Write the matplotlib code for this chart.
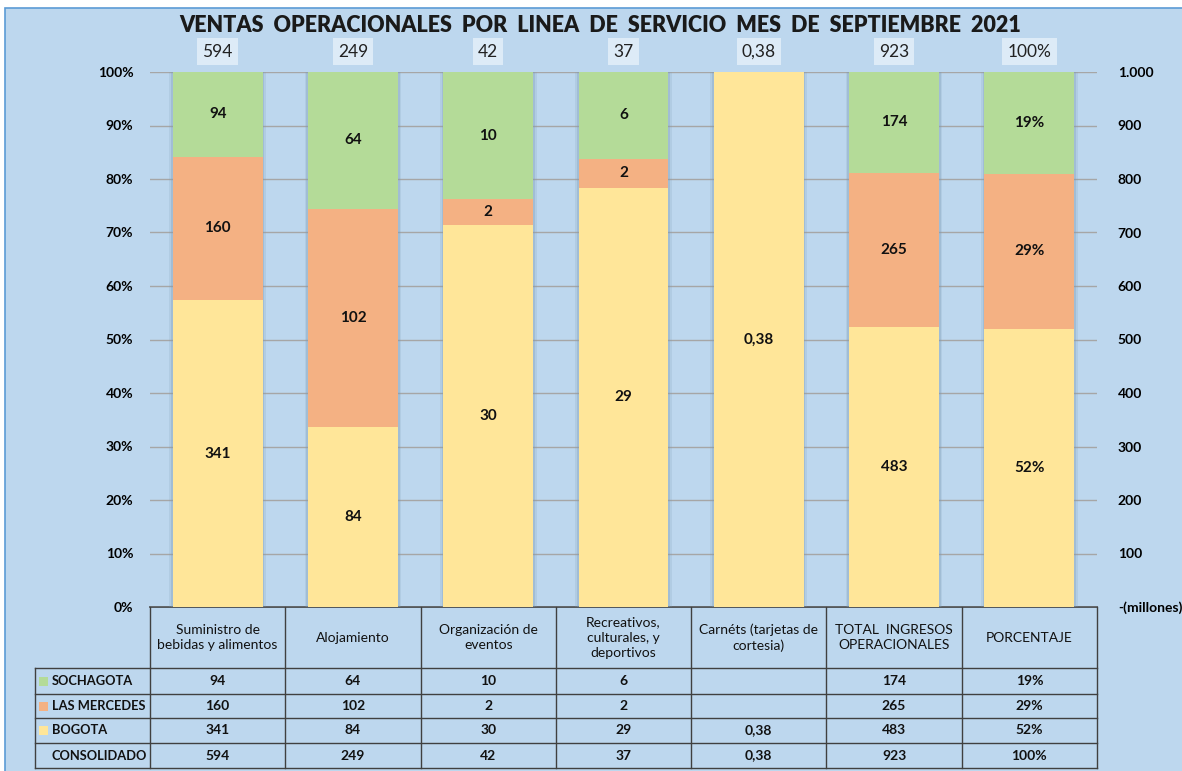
import matplotlib
matplotlib.use("Agg")
import matplotlib.pyplot as plt
import numpy as np
from matplotlib.patches import Rectangle

plt.rcParams['font.family'] = ['Lato', 'DejaVu Sans']

# data
categories = ["Suministro de\nbebidas y alimentos", "Alojamiento", "Organización de\neventos",
              "Recreativos,\nculturales, y\ndeportivos", "Carnéts (tarjetas de\ncortesia)",
              "TOTAL  INGRESOS\nOPERACIONALES", "PORCENTAJE"]
series_names = ["SOCHAGOTA", "LAS MERCEDES", "BOGOTA"]
sochagota = [94, 64, 10, 6, 0, 174, 19]
mercedes = [160, 102, 2, 2, 0, 265, 29]
bogota = [341, 84, 30, 29, 0.38, 483, 52]
consolidado = [594, 249, 42, 37, 0.38, 923, 100]
right_ticks = [0, 100, 200, 300, 400, 500, 600, 700, 800, 900, 1000]
right_labels = ["-(millones)", "100", "200", "300", "400", "500", "600", "700", "800", "900", "1.000"]

green = '#B4DB98'
orange = '#F4B183'
yellow = '#FFE699'
bgcol = '#BDD7EE'


def fmt(v, col):
    if v == 0:
        return ""
    if col == len(categories) - 1:
        return f"{v:.0f}%"
    if v < 1:
        return f"{v:.2f}".replace(".", ",")
    return f"{v:.0f}"


W, H = 1182, 771
fig = plt.figure(figsize=(W / 100, H / 100), dpi=100)
fig.patch.set_facecolor('white')

# background / table axes in pixel coordinates
bg = fig.add_axes([0, 0, 1, 1], zorder=0)
bg.set_xlim(0, W)
bg.set_ylim(H, 0)
bg.axis('off')
bg.add_patch(Rectangle((5, 8), W, H, facecolor=bgcol, edgecolor='#5B9BD5', lw=1.2))

# plot area
L, R, T, B = 150, 1097, 72, 607
ax = fig.add_axes([L / W, 1 - B / H, (R - L) / W, (B - T) / H], zorder=2)
ax.set_facecolor('none')

n = len(categories)
x = np.arange(n)
vals = np.array([bogota, mercedes, sochagota], dtype=float)
tot = vals.sum(axis=0)
frac = vals / tot
bw = 0.665

# soft shadow around the bars
ax.bar(x, np.ones(n), bw + 0.05, color='#7F9BB5', alpha=0.18, zorder=1, lw=0)
ax.bar(x, np.ones(n), bw + 0.025, color='#7F9BB5', alpha=0.3, zorder=1, lw=0)
bottom = np.zeros(n)
for k in range(3):
    ax.bar(x, frac[k], bw, bottom=bottom, color=[yellow, orange, green][k], zorder=2, lw=0)
    for i in range(n):
        if vals[k, i] > 0:
            ax.text(x[i], bottom[i] + frac[k, i] / 2, fmt(vals[k, i], i), ha='center', va='center',
                    fontsize=11, fontweight='bold', color='#111111', zorder=3)
    bottom += frac[k]

for i in range(n):
    ax.text(x[i], 1.038, fmt(consolidado[i], i), ha='center', va='center', fontsize=12.5,
            color='#222222', zorder=3,
            bbox=dict(boxstyle='square,pad=0.3', facecolor='#DDEBF7', edgecolor='none'))

ax.set_xlim(-0.5, n - 0.5)
ax.set_ylim(0, 1)
ax.set_yticks(np.arange(0, 1.01, 0.1))
ax.set_yticklabels([f"{v}%" for v in range(0, 101, 10)], fontsize=10, fontweight='bold')
ax.yaxis.grid(True, color='#A6A6A6', lw=1)
ax.set_axisbelow(True)
ax.tick_params(axis='y', length=0, pad=12)
ax.set_xticks([])
for s in ax.spines.values():
    s.set_visible(False)

ax2 = ax.twinx()
ax2.set_ylim(0, 1000)
ax2.set_yticks(right_ticks)
ax2.set_yticklabels(right_labels, fontsize=10, fontweight='bold')
ax2.tick_params(axis='y', length=0, pad=15)
for s in ax2.spines.values():
    s.set_visible(False)

fig.text(600 / W, 1 - 26 / H, "VENTAS  OPERACIONALES  POR  LINEA  DE  SERVICIO  MES  DE  SEPTIEMBRE  2021",
         ha='center', va='center', fontsize=15.5, fontweight='heavy', color='#1a1a1a')

# data table under the chart
col_edges = np.linspace(L, R, n + 1)
row_edges = [607, 668, 694, 718, 743, 768]
lab_left = 35
lc = '#404040'
for j in range(n + 1):
    bg.plot([col_edges[j], col_edges[j]], [row_edges[0], row_edges[-1]], color=lc, lw=1)
bg.plot([lab_left, lab_left], [row_edges[1], row_edges[-1]], color=lc, lw=1)
bg.plot([L, R], [row_edges[0], row_edges[0]], color=lc, lw=1.2)
for r in row_edges[1:]:
    bg.plot([lab_left, R], [r, r], color=lc, lw=1)

for j in range(n):
    cx = (col_edges[j] + col_edges[j + 1]) / 2
    bg.text(cx, (row_edges[0] + row_edges[1]) / 2, categories[j], ha='center', va='center',
            fontsize=10, color='#111111', linespacing=1.35)

row_vals = [sochagota, mercedes, bogota, consolidado]
row_names = series_names + ["CONSOLIDADO"]
row_cols = [green, orange, yellow, None]
for r in range(4):
    cy = (row_edges[r + 1] + row_edges[r + 2]) / 2
    if row_cols[r]:
        bg.add_patch(Rectangle((39, cy - 4.5), 9, 9, facecolor=row_cols[r], edgecolor='none'))
    bg.text(52, cy, row_names[r], ha='left', va='center', fontsize=9.3, fontweight='bold', color='#111111')
    for j in range(n):
        cx = (col_edges[j] + col_edges[j + 1]) / 2
        bg.text(cx, cy, fmt(row_vals[r][j], j), ha='center', va='center', fontsize=10,
                fontweight='bold', color='#111111')

fig.savefig("out.png", dpi=100, facecolor=fig.get_facecolor())
